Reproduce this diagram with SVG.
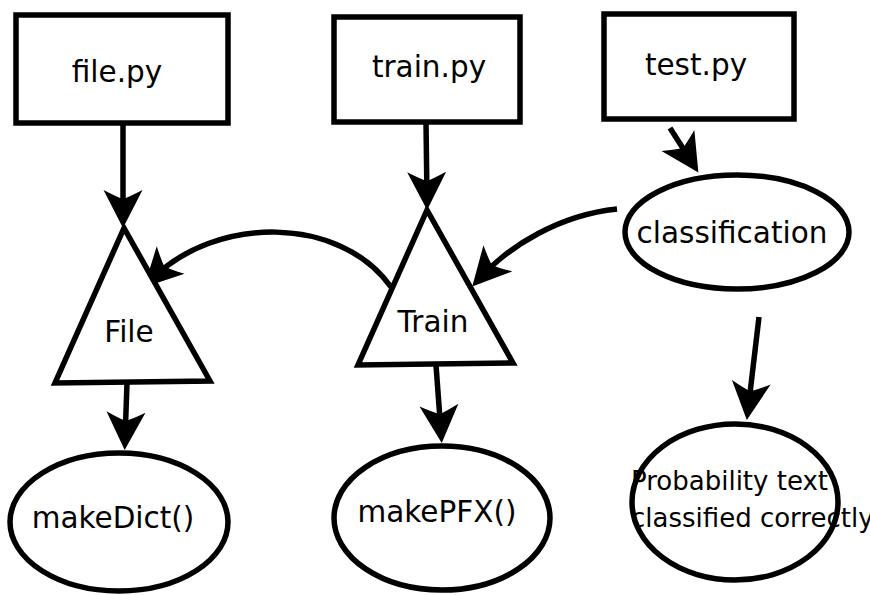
<svg xmlns="http://www.w3.org/2000/svg" width="870" height="595" viewBox="0 0 870 595">
  <defs>
    <style>
      .box { fill: #fff; stroke: #000; stroke-width: 5.5; }
      .lbl { font-family: "DejaVu Sans", "Liberation Sans", sans-serif; font-size: 29.5px; fill: #000; }
      .small { font-size: 26px; }
      .edge { fill: none; stroke: #000; stroke-width: 5.5; marker-end: url(#head); }
    </style>
    <marker id="head" markerUnits="userSpaceOnUse" orient="auto" markerWidth="60" markerHeight="60" viewBox="-40 -30 60 60" refX="0" refY="0" overflow="visible">
      <path d="M10,0 L-28,-19.5 Q-21,-6 -19,0 Q-21,6 -28,19.5 Z" fill="#000"/>
    </marker>
  </defs>

  <rect width="870" height="595" fill="#fff"/>

  <!-- connectors -->
  <g id="connectors">
    <path class="edge" d="M123,125 L123,218"/>
    <path class="edge" d="M426,122 L427,200"/>
    <path class="edge" d="M670,128 L693,164"/>
    <path class="edge" d="M391,287 C340,215 215,215 151,280"/>
    <path class="edge" d="M617,209 C560,215 510,245 479,279"/>
    <path class="edge" d="M127,383 L125,440"/>
    <path class="edge" d="M436,365 L441,433"/>
    <path class="edge" d="M759,317 L748,410"/>
  </g>

  <!-- nodes -->
  <g id="file-py">
    <rect class="box" x="16" y="15" width="212" height="108"/>
    <text class="lbl" x="117" y="82" text-anchor="middle">file.py</text>
  </g>
  <g id="train-py">
    <rect class="box" x="334" y="17" width="186" height="105"/>
    <text class="lbl" x="429" y="77" text-anchor="middle">train.py</text>
  </g>
  <g id="test-py">
    <rect class="box" x="604" y="14" width="190" height="105"/>
    <text class="lbl" x="696" y="75" text-anchor="middle">test.py</text>
  </g>
  <g id="classification">
    <ellipse class="box" cx="737" cy="232" rx="112" ry="57"/>
    <text class="lbl" x="732" y="243" text-anchor="middle">classification</text>
  </g>
  <g id="file">
    <polygon class="box" points="124,228 55,383 210,381"/>
    <text class="lbl" x="129" y="342" text-anchor="middle">File</text>
  </g>
  <g id="train">
    <polygon class="box" points="427,210 358,365 513,363"/>
    <text class="lbl" x="433" y="332" text-anchor="middle">Train</text>
  </g>
  <g id="makeDict">
    <ellipse class="box" cx="119" cy="522" rx="109" ry="69"/>
    <text class="lbl" x="113" y="528" text-anchor="middle">makeDict()</text>
  </g>
  <g id="makePFX">
    <ellipse class="box" cx="442" cy="518" rx="108" ry="72"/>
    <text class="lbl" x="437" y="522" text-anchor="middle">makePFX()</text>
  </g>
  <g id="probability">
    <ellipse class="box" cx="735" cy="502" rx="103" ry="78"/>
    <text class="lbl small" x="631" y="490">Probability text</text>
    <text class="lbl small" x="631" y="527">classified correctly</text>
  </g>
</svg>
